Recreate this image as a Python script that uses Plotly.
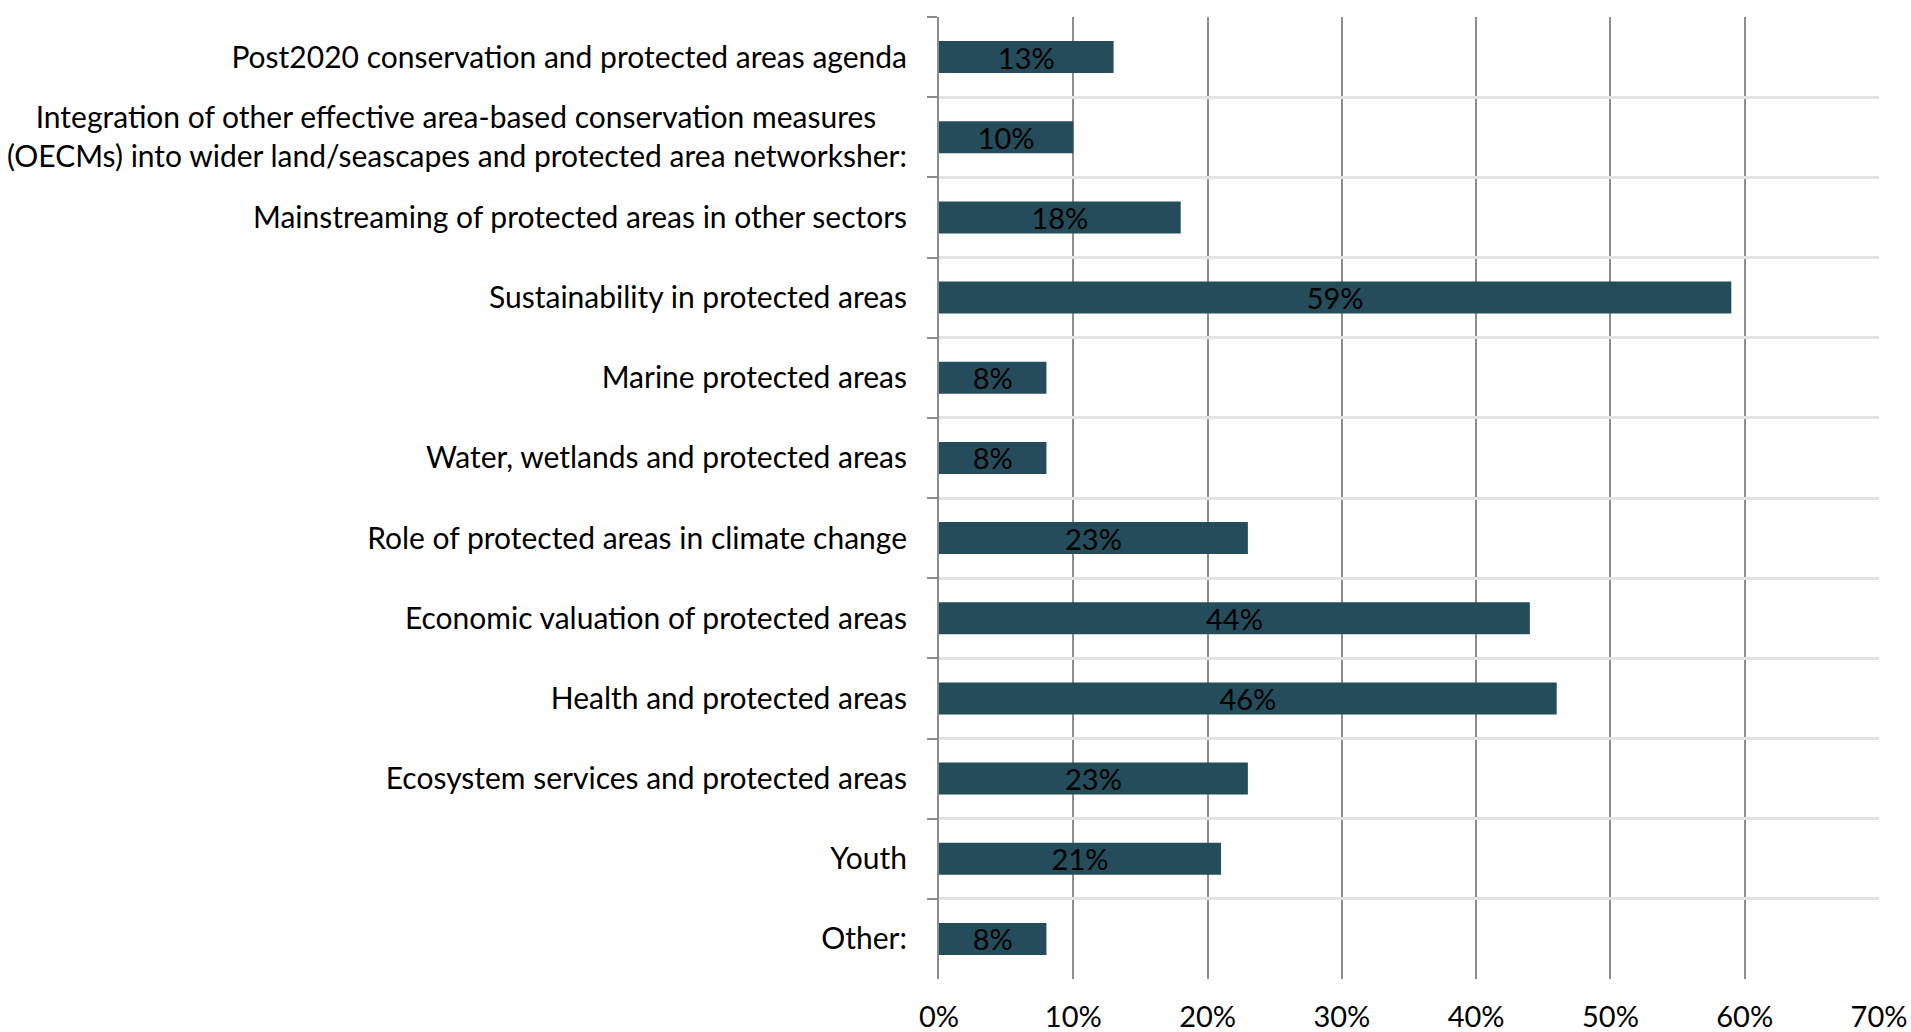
import plotly.graph_objects as go

NB = "\u00a0"
categories = [
    "Post2020 conservation and protected areas agenda",
    "Integration of other effective area-based conservation measures" + NB * 4 + "<br>(OECMs) into wider land/seascapes and protected area networksher:",
    "Mainstreaming of protected areas in other sectors",
    "Sustainability in protected areas",
    "Marine protected areas",
    "Water, wetlands and protected areas",
    "Role of protected areas in climate change",
    "Economic valuation of protected areas",
    "Health and protected areas",
    "Ecosystem services and protected areas",
    "Youth",
    "Other:",
]
values = [13, 10, 18, 59, 8, 8, 23, 44, 46, 23, 21, 8]
x_ticks = [0, 10, 20, 30, 40, 50, 60, 70]

FONT = "Lato, Open Sans, sans-serif"
BAR = "#244c5a"
DARK = "#8c8c8c"
LIGHT = "#e2e2e2"

fig = go.Figure()
fig.add_trace(go.Bar(
    y=categories,
    x=values,
    orientation="h",
    marker=dict(color=BAR, line=dict(width=0)),
    text=[f"{v}%" for v in values],
    texttemplate="%{text}",
    textposition="inside",
    insidetextanchor="middle",
    constraintext="none",
    textangle=0,
    textfont=dict(family=FONT, size=29, color="#000000"),
    hoverinfo="skip",
))

fig.update_layout(
    width=1911,
    height=1032,
    margin=dict(l=939, r=32, t=17, b=53, pad=0),
    paper_bgcolor="white",
    plot_bgcolor="white",
    showlegend=False,
    bargap=0.6,
    font=dict(family=FONT, size=29, color="#000000"),
    xaxis=dict(
        range=[0, 70],
        tickvals=x_ticks,
        ticktext=[f"{v}%" for v in x_ticks],
        showgrid=True,
        gridcolor=DARK,
        gridwidth=2,
        zeroline=False,
        showline=False,
        ticks="",
        automargin=False,
        ticklabelstandoff=18,
        tickfont=dict(family=FONT, size=29, color="#000000"),
    ),
    xaxis2=dict(
        overlaying="x",
        matches="x",
        side="top",
        showline=True,
        linecolor=DARK,
        linewidth=2,
        showgrid=False,
        showticklabels=False,
        ticks="",
        zeroline=False,
        automargin=False,
    ),
    yaxis=dict(
        type="category",
        autorange="reversed",
        tickson="boundaries",
        ticks="outside",
        ticklen=10,
        tickwidth=2,
        tickcolor=DARK,
        showgrid=True,
        gridcolor=LIGHT,
        gridwidth=3,
        showline=True,
        linecolor=DARK,
        linewidth=2,
        zeroline=False,
        automargin=False,
        ticklabelstandoff=24,
        tickfont=dict(family=FONT, size=30, color="#000000"),
    ),
)

fig.write_html(
    "out.html",
    config={"displayModeBar": False, "staticPlot": True},
    post_script="document.body.style.margin='0';document.body.style.overflow='hidden';",
)
